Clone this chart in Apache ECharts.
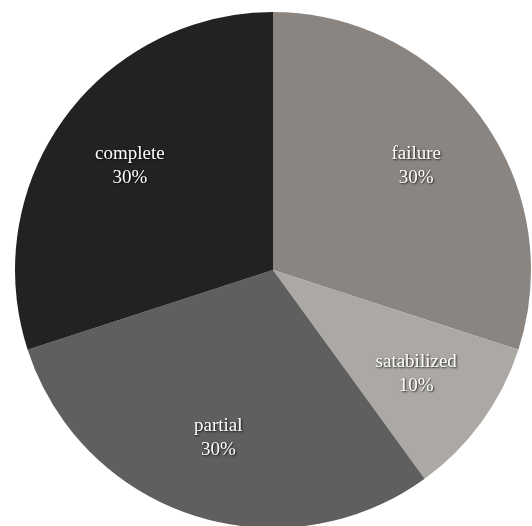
<!DOCTYPE html>
<html>
<head>
<meta charset="utf-8">
<script src="https://cdn.jsdelivr.net/npm/echarts@6/dist/echarts.min.js"></script>
<style>
  html, body { margin: 0; padding: 0; background: #fff; }
  #main { width: 532px; height: 526px; }
</style>
</head>
<body>
<div id="main"></div>
<script>
  // slices, clockwise from 12 o'clock
  const names = ['failure', 'satabilized', 'partial', 'complete'];
  const values = [30, 10, 30, 30];
  const colors = ['#8a8581', '#aca9a4', '#5f5f5f', '#222222'];

  const pieData = names.map((n, i) => ({
    name: n,
    value: values[i],
    itemStyle: { color: colors[i] }
  }));

  const chart = echarts.init(document.getElementById('main'));
  chart.setOption({
    animation: false,
    series: [
      {
        type: 'pie',
        center: [273, 270],
        radius: [0, 258],
        startAngle: 90,
        clockwise: true,
        silent: true,
        label: { show: false },
        labelLine: { show: false },
        data: pieData
      },
      {
        // transparent ring only used to put the labels further out
        type: 'pie',
        center: [273, 270],
        radius: [90, 258],
        startAngle: 90,
        clockwise: true,
        silent: true,
        itemStyle: { color: 'rgba(0,0,0,0)' },
        label: {
          show: true,
          position: 'inside',
          formatter: p => p.name + '\n' + p.value + '%',
          color: '#fff',
          fontFamily: 'Liberation Serif, DejaVu Serif, serif',
          fontSize: 19,
          lineHeight: 24,
          textShadowColor: 'rgba(0,0,0,0.8)',
          textShadowBlur: 2,
          textShadowOffsetX: 1,
          textShadowOffsetY: 1
        },
        labelLine: { show: false },
        data: names.map((n, i) => ({ name: n, value: values[i] }))
      }
    ]
  });
</script>
</body>
</html>
